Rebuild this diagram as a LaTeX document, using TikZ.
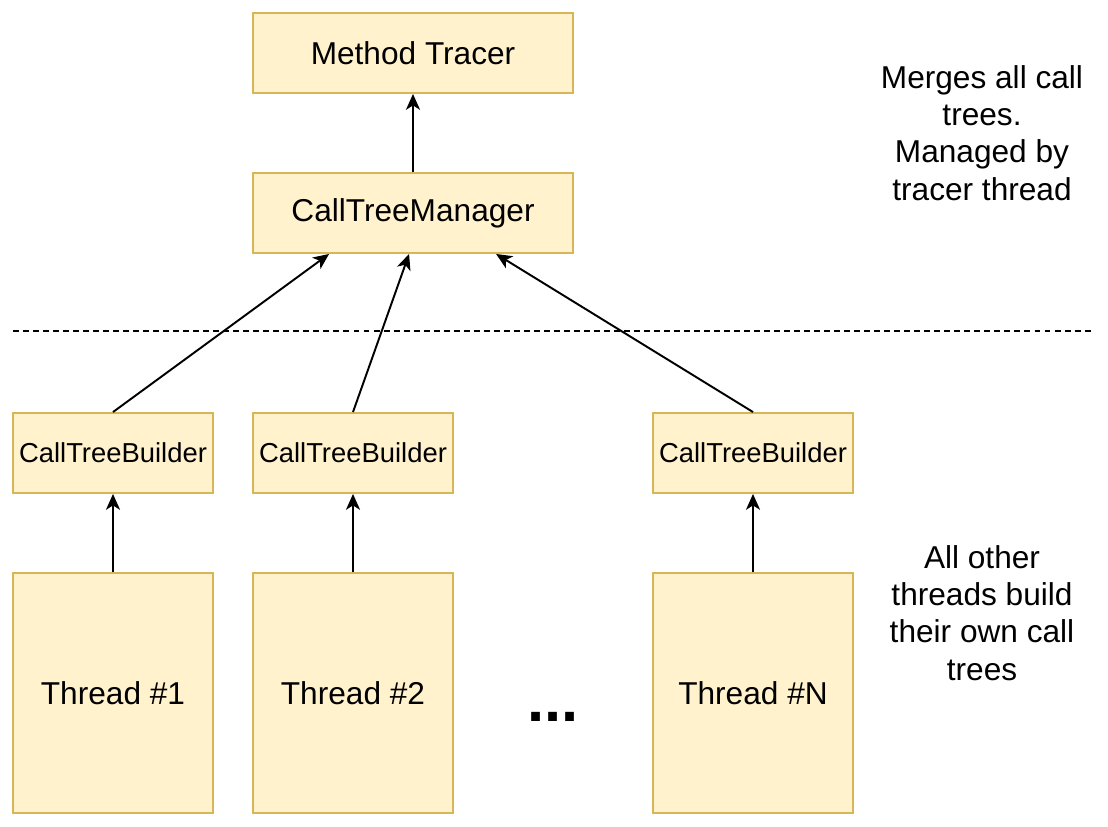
\documentclass[tikz,border=0pt]{standalone}
\usepackage{fontspec}
\setmainfont{Liberation Sans}
\usetikzlibrary{arrows.meta,calc}
\definecolor{boxfill}{HTML}{FFF2CC}
\definecolor{boxline}{HTML}{D6B656}
\tikzset{
  box/.style={draw=boxline, fill=boxfill, line width=1.1pt, inner sep=0pt, font=\fontsize{18}{20.5}\selectfont},
  bigbox/.style={box, minimum width=6.4cm, minimum height=1.6cm},
  builder/.style={box, minimum width=4cm, minimum height=1.6cm, font=\fontsize{15.6}{18}\selectfont},
  thread/.style={box, minimum width=4cm, minimum height=4.8cm},
  note/.style={align=center, font=\fontsize{18}{21.2}\selectfont},
  arr/.style={-{Stealth[length=9pt,width=8pt,inset=2.5pt]}, line width=1.1pt},
}
\begin{document}
\begin{tikzpicture}[x=0.02cm, y=-0.02cm]
\useasboundingbox (0,0) rectangle (1108,826);
\node[bigbox] (tracer) at (413,53) {Method Tracer};
\node[bigbox] (mgr) at (413,213) {CallTreeManager};
\node[builder] (ctb1) at (113,453) {CallTreeBuilder};
\node[builder] (ctb2) at (353,453) {CallTreeBuilder};
\node[builder] (ctbn) at (753,453) {CallTreeBuilder};
\node[thread] (t1) at (113,693) {Thread \#1};
\node[thread] (t2) at (353,693) {Thread \#2};
\node[thread] (tn) at (753,693) {Thread \#N};
\node[anchor=base, font=\bfseries\fontsize{35}{35}\selectfont, inner sep=0pt] (dots) at (553,721) {...};
\node[note] (topnote) at (982,133) {Merges all call\\trees.\\Managed by\\tracer thread};
\node[note] (botnote) at (982,613) {All other\\threads build\\their own call\\trees};
% separator
\coordinate (sepl) at (13,331);
\coordinate (sepr) at (1092,331);
\draw[line width=1.1pt, dash pattern=on 3.4pt off 2.3pt] (sepl) -- (sepr);
% arrows
\draw[arr] (mgr) -- (tracer);
\draw[arr] (ctb1.north) -- ($(mgr.south west)+(77,0)$);
\draw[arr] (ctb2.north) -- ($(mgr.south west)+(157,0)$);
\draw[arr] (ctbn.north) -- ($(mgr.south west)+(244,0)$);
\draw[arr] (t1) -- (ctb1);
\draw[arr] (t2) -- (ctb2);
\draw[arr] (tn) -- (ctbn);
\end{tikzpicture}
\end{document}
